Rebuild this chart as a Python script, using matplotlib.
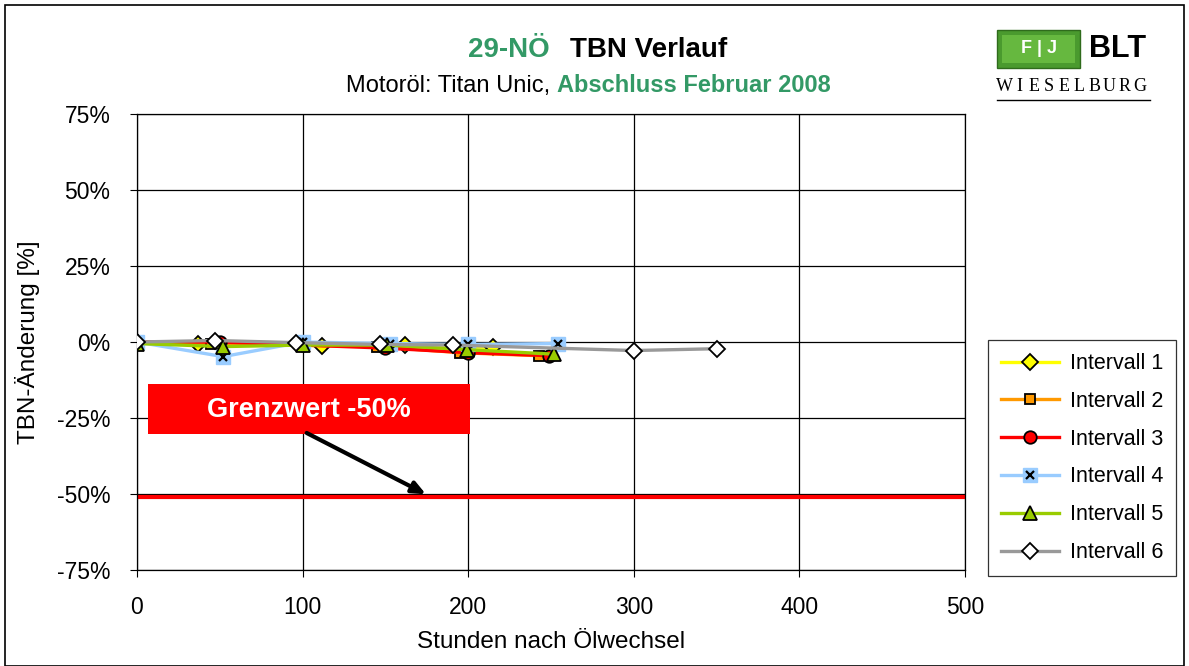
"""TBN-Verlauf 29-NÖ: Änderung der Basenzahl über die Ölwechselintervalle."""

import matplotlib

matplotlib.use("Agg")
import matplotlib.pyplot as plt  # noqa: E402
from matplotlib.legend_handler import HandlerTuple  # noqa: E402
from matplotlib.patches import Rectangle  # noqa: E402
from matplotlib.ticker import FuncFormatter  # noqa: E402

plt.rcParams["font.family"] = ["Liberation Sans", "DejaVu Sans"]

# Stunden nach Ölwechsel / TBN-Änderung [%] je Intervall
i1_h = [0, 37, 112, 162, 215]
i1_tbn = [0.0, -0.5, -1.2, -1.0, -1.8]
i2_h = [0, 45, 145, 195, 243]
i2_tbn = [0.0, -0.5, -1.5, -3.5, -4.5]
i3_h = [0, 50, 100, 150, 200, 249]
i3_tbn = [0.0, 0.0, -1.0, -2.0, -3.5, -4.5]
i4_h = [0, 52, 100, 153, 200, 254]
i4_tbn = [0.0, -4.8, 0.0, -0.5, -0.8, -0.5]
i5_h = [0, 52, 100, 151, 199, 252]
i5_tbn = [-0.5, -1.5, -1.0, -1.0, -2.5, -4.0]
i6_h = [0, 47, 96, 147, 191, 300, 350]
i6_tbn = [0.0, 0.5, -0.2, -0.8, -1.0, -2.8, -2.2]

GRENZWERT = -51
X_TICKS = [0, 100, 200, 300, 400, 500]
Y_TICKS = [-75, -50, -25, 0, 25, 50, 75]

GREEN = "#339966"

series = [
    ("Intervall 1", i1_h, i1_tbn, "#FFFF00", dict(marker="D", mfc="#FFFF00", ms=8.5)),
    ("Intervall 2", i2_h, i2_tbn, "#FF9900", dict(marker="s", mfc="#FF9900", ms=7.5)),
    ("Intervall 3", i3_h, i3_tbn, "#FF0000", dict(marker="o", mfc="#FF0000", ms=9)),
    ("Intervall 4", i4_h, i4_tbn, "#99CCFF", dict(marker="x", mfc="#99CCFF", ms=6, mew=1.6)),
    ("Intervall 5", i5_h, i5_tbn, "#99CC00", dict(marker="^", mfc="#99CC00", ms=10)),
    ("Intervall 6", i6_h, i6_tbn, "#999999", dict(marker="D", mfc="white", ms=8.5)),
]

fig = plt.figure(figsize=(11.89, 6.66), dpi=100)
ax = fig.add_axes([0.1152, 0.1441, 0.6964, 0.6847])

ax.set_xlim(0, 500)
ax.set_ylim(-75, 75)
ax.set_xticks(X_TICKS)
ax.set_yticks(Y_TICKS)
ax.yaxis.set_major_formatter(FuncFormatter(lambda v, _: f"{v:.0f}%"))
ax.grid(True, color="black", lw=0.9)
ax.set_axisbelow(True)
ax.tick_params(labelsize=16.5, direction="out", length=5, color="black")
ax.tick_params(axis="y", pad=14)
ax.tick_params(axis="x", pad=14)
for sp in ax.spines.values():
    sp.set_color("black")
    sp.set_linewidth(0.9)

# Grenzwert-Linie
ax.axhline(GRENZWERT, color="#FF0000", lw=3, zorder=2)

handles, labels = [], []
for name, h, tbn, col, mk in series:
    mew = mk.pop("mew", 1.3)
    if mk["marker"] == "x":
        # Excel-Stil: Kreuz auf hellblauem Quadrat
        ax.plot(h, tbn, color=col, lw=2.4, marker="s", ms=9.5, mfc=col, mec=col,
                zorder=3)
        back = plt.Line2D([], [], color=col, lw=2.4, marker="s", ms=9.5, mfc=col, mec=col)
        ax.plot(h, tbn, ls="none", mec="black", mew=mew, zorder=3, **mk)
        front = plt.Line2D([], [], ls="none", mec="black", mew=mew, **mk)
        handles.append((back, front))
    else:
        (ln,) = ax.plot(h, tbn, color=col, lw=2.4, mec="black", mew=mew,
                        zorder=3, **mk)
        handles.append(ln)
    labels.append(name)

# Grenzwert-Kasten mit Pfeil
ax.add_patch(Rectangle((6.6, -30.3), 194.4, 16.5, fc="#FF0000", ec="none", zorder=5))
ax.text(104, -22.3, "Grenzwert -50%", ha="center", va="center", color="white",
        fontsize=19.5, fontweight="bold", zorder=6)
ax.annotate("", xy=(176, GRENZWERT + 0.5), xytext=(101, -29.5),
            arrowprops=dict(arrowstyle="-|>,head_length=0.8,head_width=0.35",
                            color="black", lw=3), zorder=6)

ax.set_xlabel("Stunden nach Ölwechsel", fontsize=17.5, labelpad=8)
ax.set_ylabel("TBN-Änderung [%]", fontsize=17.5, labelpad=12)

leg = ax.legend(handles, labels, loc="upper left", bbox_to_anchor=(1.028, 0.504),
                fontsize=15.5, frameon=True, fancybox=False, edgecolor="black",
                handlelength=2.7, labelspacing=0.78, borderpad=0.6,
                handletextpad=0.5, borderaxespad=0,
                handler_map={tuple: HandlerTuple(ndivide=1, pad=0)})
leg.get_frame().set_linewidth(0.9)

# Titel
fig.text(0.4626, 0.925, "29-NÖ", color=GREEN, fontsize=20, fontweight="bold",
         ha="right", va="center")
fig.text(0.479, 0.925, "TBN Verlauf", color="black", fontsize=20,
         fontweight="bold", ha="left", va="center")
fig.text(0.4626, 0.871, "Motoröl: Titan Unic,", color="black", fontsize=17,
         ha="right", va="center")
fig.text(0.4685, 0.871, "Abschluss Februar 2008", color=GREEN, fontsize=17,
         fontweight="bold", ha="left", va="center")

# Logo FJ BLT Wieselburg
fig.patches.append(Rectangle((0.8385, 0.898), 0.07, 0.057, transform=fig.transFigure,
                             fc="#4A9A2E", ec="#2F6B1C", lw=1))
fig.patches.append(Rectangle((0.8425, 0.905), 0.062, 0.043, transform=fig.transFigure,
                             fc="#66B83F", ec="none"))
fig.text(0.8735, 0.927, "F | J", color="white", fontsize=13, fontweight="bold",
         ha="center", va="center")
fig.text(0.940, 0.927, "BLT", color="black", fontsize=22, fontweight="bold",
         ha="center", va="center")
logo_word = "WIESELBURG"
for k, ch in enumerate(logo_word):
    fig.text(0.8445 + k * 0.01265, 0.870, ch, color="black", fontsize=13,
             family="Liberation Serif", ha="center", va="center")
fig.add_artist(plt.Line2D([0.8385, 0.967], [0.85, 0.85], transform=fig.transFigure,
                          color="black", lw=1))

# Rahmen um die ganze Grafik
fig.patches.append(Rectangle((0.004, 0.0), 0.992, 0.993, transform=fig.transFigure,
                             fill=False, ec="black", lw=1.2))

fig.savefig("out.png", dpi=100)
